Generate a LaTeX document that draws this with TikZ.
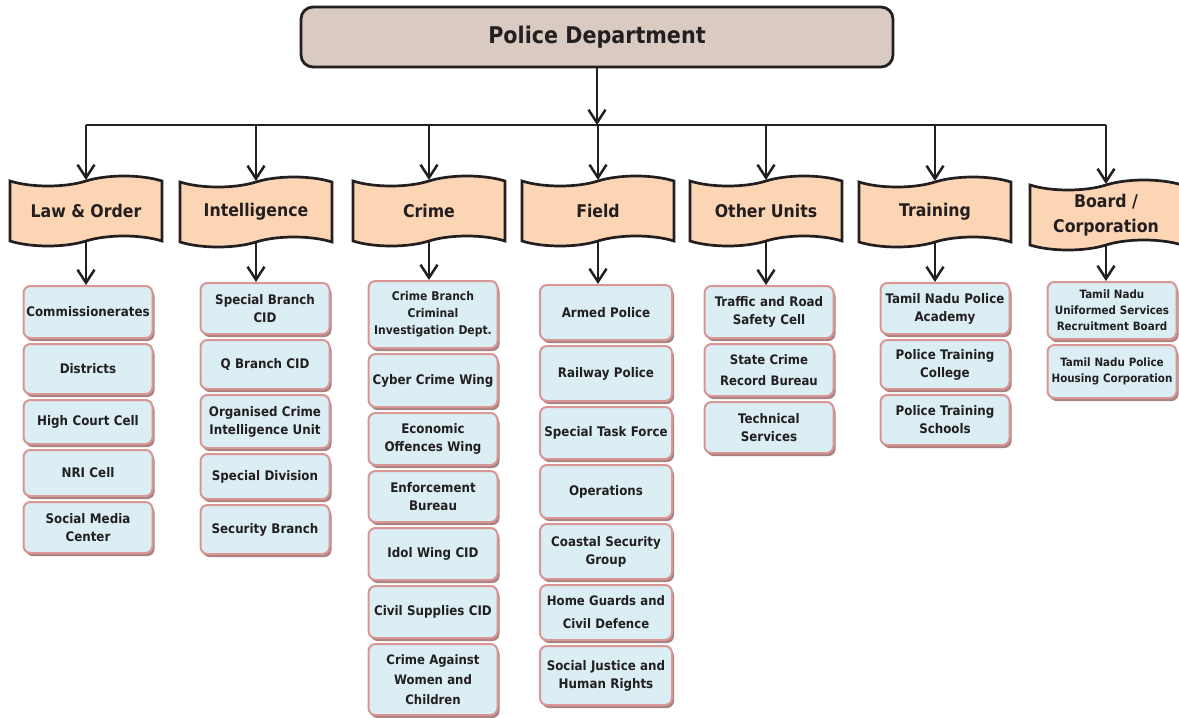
\documentclass[tikz,border=0pt]{standalone}
\usepackage{fontspec}
\setmainfont{DejaVu Sans Condensed}[BoldFont={DejaVu Sans Condensed Bold}]
\usetikzlibrary{arrows.meta, positioning, shapes.symbols, shadows}
\definecolor{inkdark}{HTML}{231F20}
\definecolor{headfill}{HTML}{D9CBC2}
\definecolor{bannerfill}{HTML}{FCD5B4}
\definecolor{unitfill}{HTML}{DAEEF3}
\definecolor{unitline}{HTML}{D99694}
\definecolor{unitshade}{HTML}{A98282}
\tikzstyle{orgchart}=[x=1pt, y=-1pt, >={Straight Barb[length=13pt,width=17pt]}, line width=2.5pt, inkdark, font=\bfseries]
\tikzset{
  headbox/.style={draw=inkdark, line width=2.8pt, fill=headfill, rounded corners=12pt,
    minimum width=592pt, minimum height=60pt, font=\fontsize{23}{27}\selectfont\bfseries},
  banner/.style={tape, draw=inkdark, line width=2.7pt, fill=bannerfill, tape bend height=10pt,
    minimum width=152pt, minimum height=70pt, align=center, inner sep=2pt,
    font=\fontsize{17.5}{25}\selectfont\bfseries},
  unit/.style={draw=unitline, line width=2pt, fill=unitfill, rounded corners=7pt,
    minimum width=129pt, minimum height=50pt, text width=125pt, align=center, inner sep=2pt,
    font=\fontsize{13.2}{18}\selectfont\bfseries,
    drop shadow={shadow xshift=2pt, shadow yshift=-3pt, fill=unitshade, opacity=1}},
  small/.style={font=\fontsize{12}{17}\selectfont\bfseries},
  tiny/.style={font=\fontsize{11.5}{16}\selectfont\bfseries}
}

\begin{document}
\begin{tikzpicture}[orgchart]
  \useasboundingbox (0,0) rectangle (1179,718);
  \node[headbox] (pd) at (597,37) {Police Department};
  \coordinate (bar) at (597,125);

  % wings
  \node[banner] (lo) at (86,211) {Law \& Order};
  \node[banner] (intel) at (256,212) {Intelligence};
  \node[banner] (crime) at (429,211) {Crime};
  \node[banner] (field) at (598,211) {Field};
  \node[banner] (other) at (766,211) {Other Units};
  \node[banner] (train) at (935,212) {Training};
  \node[banner] (board) at (1106,215) {Board /\\Corporation};

  \draw[->] (pd.south) -- (pd.south |- bar);
  \draw (lo.north |- bar) -- (board.north |- bar);
  \foreach \w in {lo,intel,crime,field,other,train,board}
    \draw[->] (\w.north |- bar) -- (\w.north);

  % Law & Order
  \node[unit, minimum height=52pt, anchor=north] (lo1) at (88,285) {Commissionerates};
  \node[unit, minimum height=50pt, below=4pt of lo1] (lo2) {Districts};
  \node[unit, minimum height=44pt, below=4pt of lo2] (lo3) {High Court Cell};
  \node[unit, minimum height=46pt, below=4pt of lo3] (lo4) {NRI Cell};
  \node[unit, minimum height=51pt, below=4pt of lo4] (lo5) {Social Media\\Center};

  % Intelligence
  \node[unit, minimum height=51pt, anchor=north] (in1) at (265,282) {Special Branch\\CID};
  \node[unit, minimum height=49pt, below=4pt of in1] (in2) {Q Branch CID};
  \node[unit, minimum height=53pt, below=4pt of in2] (in3) {Organised Crime\\Intelligence Unit};
  \node[unit, minimum height=45pt, below=4pt of in3] (in4) {Special Division};
  \node[unit, minimum height=49pt, below=4pt of in4] (in5) {Security Branch};

  % Crime
  \node[unit, small, minimum height=67pt, anchor=north] (cr1) at (433,280) {Crime Branch\\Criminal\\Investigation Dept.};
  \node[unit, minimum height=53pt, below=4pt of cr1] (cr2) {Cyber Crime Wing};
  \node[unit, minimum height=52pt, below=4pt of cr2] (cr3) {Economic\\Offences Wing};
  \node[unit, minimum height=51pt, below=4pt of cr3] (cr4) {Enforcement\\Bureau};
  \node[unit, minimum height=52pt, below=4pt of cr4] (cr5) {Idol Wing CID};
  \node[unit, minimum height=52pt, below=4pt of cr5] (cr6) {Civil Supplies CID};
  \node[unit, font=\fontsize{13}{20}\selectfont\bfseries, minimum height=71pt, below=4pt of cr6] (cr7) {Crime Against\\Women and\\Children};

  % Field
  \node[unit, minimum width=132pt, minimum height=55pt, anchor=north] (fi1) at (606,284) {Armed Police};
  \node[unit, minimum width=132pt, minimum height=55pt, below=4pt of fi1] (fi2) {Railway Police};
  \node[unit, minimum width=132pt, minimum height=52pt, below=4pt of fi2] (fi3) {Special Task Force};
  \node[unit, minimum width=132pt, minimum height=53pt, below=4pt of fi3] (fi4) {Operations};
  \node[unit, minimum width=132pt, minimum height=55pt, below=4pt of fi4] (fi5) {Coastal Security\\Group};
  \node[unit, minimum width=132pt, minimum height=55pt, font=\fontsize{13}{23}\selectfont\bfseries, below=4pt of fi5] (fi6) {Home Guards and\\Civil Defence};
  \node[unit, minimum width=132pt, minimum height=59pt, below=4pt of fi6] (fi7) {Social Justice and\\Human Rights};

  % Other Units
  \node[unit, minimum height=52pt, anchor=north] (ou1) at (769,285) {Traffic and Road\\Safety Cell};
  \node[unit, minimum height=52pt, font=\fontsize{13}{21}\selectfont\bfseries, below=4pt of ou1] (ou2) {State Crime\\Record Bureau};
  \node[unit, minimum height=51pt, below=4pt of ou2] (ou3) {Technical\\Services};

  % Training
  \node[unit, minimum height=51pt, anchor=north] (tr1) at (945,282) {Tamil Nadu Police\\Academy};
  \node[unit, minimum height=49pt, below=4pt of tr1] (tr2) {Police Training\\College};
  \node[unit, minimum height=50pt, below=4pt of tr2] (tr3) {Police Training\\Schools};

  % Board / Corporation
  \node[unit, tiny, minimum width=128pt, minimum height=57pt, anchor=north] (bo1) at (1112,281) {Tamil Nadu\\Uniformed Services\\Recruitment Board};
  \node[unit, tiny, minimum width=128pt, minimum height=53pt, below=4pt of bo1] (bo2) {Tamil Nadu Police\\Housing Corporation};

  \draw[->] (lo.south) -- (lo.south |- lo1.north);
  \draw[->] (intel.south) -- (intel.south |- in1.north);
  \draw[->] (crime.south) -- (crime.south |- cr1.north);
  \draw[->] (field.south) -- (field.south |- fi1.north);
  \draw[->] (other.south) -- (other.south |- ou1.north);
  \draw[->] (train.south) -- (train.south |- tr1.north);
  \draw[->] (board.south) -- (board.south |- bo1.north);
\end{tikzpicture}
\end{document}
